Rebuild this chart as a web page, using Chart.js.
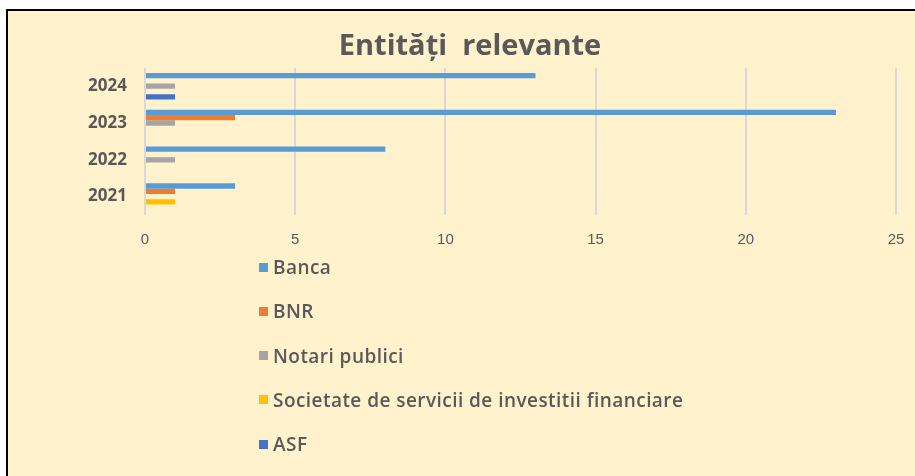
<!DOCTYPE html>
<html>
<head>
<meta charset="utf-8">
<script src="https://cdn.jsdelivr.net/npm/chart.js@4"></script>
<style>
  body { margin: 0; background: #fff; }
  #frame {
    position: absolute; left: 6px; top: 9px; width: 909px; height: 467px;
    box-sizing: border-box; background: #FFF2CC;
    border-top: 2px solid #000; border-left: 2px solid #000;
  }
  #chart { position: absolute; left: 0; top: 0; }
  #legend { position: absolute; left: 251px; top: 234px; margin: 0; padding: 0; list-style: none; }
  #legend li {
    height: 44.25px; display: flex; align-items: center;
    font-family: "Open Sans", sans-serif; font-weight: 600; font-size: 19px;
    letter-spacing: 0.45px; color: #595959;
  }
  #legend span.box { display: inline-block; width: 9px; height: 9px; margin-right: 5px; }
</style>
</head>
<body>
<div id="frame">
  <canvas id="chart" width="907" height="240"></canvas>
  <ul id="legend"></ul>
</div>
<script>
const years = ['2024', '2023', '2022', '2021'];
const seriesNames = ['Banca', 'BNR', 'Notari publici', 'Societate de servicii de investitii financiare', 'ASF'];
const banca = [13, 23, 8, 3];
const bnr = [0, 3, 0, 1];
const notari = [1, 1, 1, 0];
const societate = [0, 0, 0, 1];
const asf = [1, 0, 0, 0];
const colors = ['#5B9BD5', '#ED7D31', '#A5A5A5', '#FFC000', '#4472C4'];
const xTicks = [0, 5, 10, 15, 20, 25];

const textColor = '#595959';
const allValues = [banca, bnr, notari, societate, asf];

const chart = new Chart(document.getElementById('chart'), {
  type: 'bar',
  data: {
    labels: years,
    datasets: seriesNames.map((name, i) => ({
      label: name,
      data: allValues[i],
      backgroundColor: colors[i],
      barPercentage: 1,
      categoryPercentage: 0.72,
    })),
  },
  options: {
    indexAxis: 'y',
    responsive: false,
    animation: false,
    devicePixelRatio: 1,
    layout: { padding: { left: 36, right: 19, top: 0, bottom: 0 } },
    plugins: {
      legend: { display: false },
      tooltip: { enabled: false },
      title: {
        display: true,
        text: 'Entități  relevante',
        color: textColor,
        font: { family: 'Open Sans', size: 29, weight: 'bold' },
        padding: { top: 18, bottom: 4 },
      },
    },
    scales: {
      x: {
        min: 0,
        max: 25,
        afterBuildTicks: (s) => { s.ticks = xTicks.map((v) => ({ value: v })); },
        afterFit: (s) => { s.height = 36; },
        ticks: {
          color: textColor,
          padding: 2,
          font: { family: 'Liberation Sans', size: 15 },
        },
        // invisible tick marks push the labels down without widening the side padding
        grid: { color: '#D9D9D9', lineWidth: 2, drawTicks: true, tickLength: 14, tickColor: 'rgba(0,0,0,0)' },
        border: { display: false },
      },
      y: {
        afterFit: (s) => { s.width = 101; },
        ticks: {
          color: textColor,
          padding: 10,
          font: { family: 'Open Sans', size: 17, weight: 'bold' },
        },
        grid: { display: false },
        border: { display: false },
      },
    },
  },
});

// Legend laid out one entry per line, as in the original
const legendEl = document.getElementById('legend');
chart.data.datasets.forEach((ds) => {
  const li = document.createElement('li');
  li.innerHTML = `<span class="box" style="background:${ds.backgroundColor}"></span>${ds.label}`;
  legendEl.appendChild(li);
});
</script>
</body>
</html>
